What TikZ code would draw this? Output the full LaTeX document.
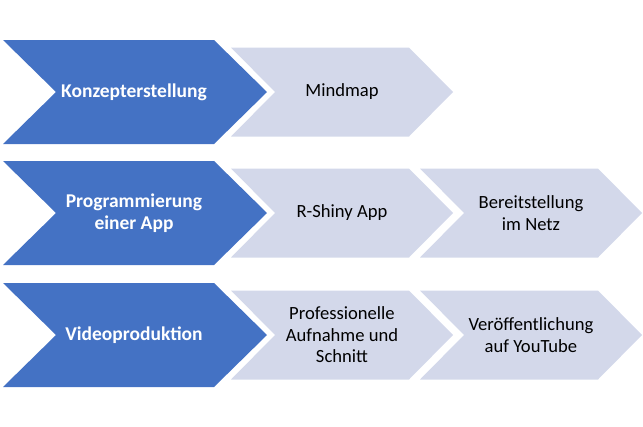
\documentclass[tikz,border=0pt]{standalone}
\usepackage{fontspec}
\setmainfont{Carlito}
\definecolor{chevblue}{HTML}{4472C4}
\definecolor{chevlight}{HTML}{D3D8EA}
\tikzset{
  bluetext/.style={text=white, font=\fontsize{19.5}{22}\selectfont\bfseries, align=center, inner sep=0pt},
  lighttext/.style={text=black, font=\fontsize{18.6}{21.5}\selectfont, align=center, inner sep=0pt},
}
% #1 left x, #2 mid y, #3 tip x, #4 half height, #5 depth, #6 colour
\newcommand\mychev[6]{%
  \fill[#6] (#1,#2-#4) -- (#3-#5,#2-#4) -- (#3,#2) -- (#3-#5,#2+#4) -- (#1,#2+#4) -- (#1+#5,#2) -- cycle;}
\begin{document}
\begin{tikzpicture}[x=1pt,y=-1pt]
\useasboundingbox (0,0) rectangle (643,426);
% row 1
\mychev{3}{92}{267}{52}{53}{chevblue}
\mychev{231}{92}{453}{44.5}{44}{chevlight}
\node[bluetext] (k) at (134,92) {Konzepterstellung};
\node[lighttext] (m) at (342,92) {Mindmap};
% row 2
\mychev{3}{213}{267}{52}{53}{chevblue}
\mychev{231}{213}{453}{44.5}{44}{chevlight}
\mychev{420}{213}{642}{44.5}{44}{chevlight}
\node[bluetext] (p) at (134,213) {Programmierung\\einer App};
\node[lighttext] (r) at (342,213) {R-Shiny App};
\node[lighttext] (b) at (531,213) {Bereitstellung\\im Netz};
% row 3
\mychev{3}{335}{267}{52}{53}{chevblue}
\mychev{231}{335}{453}{44.5}{44}{chevlight}
\mychev{420}{335}{642}{44.5}{44}{chevlight}
\node[bluetext] (v) at (134,335) {Videoproduktion};
\node[lighttext] (a) at (342,335) {Professionelle\\Aufnahme und\\Schnitt};
\node[lighttext] (y) at (531,335) {Veröffentlichung\\auf YouTube};
\end{tikzpicture}
\end{document}
